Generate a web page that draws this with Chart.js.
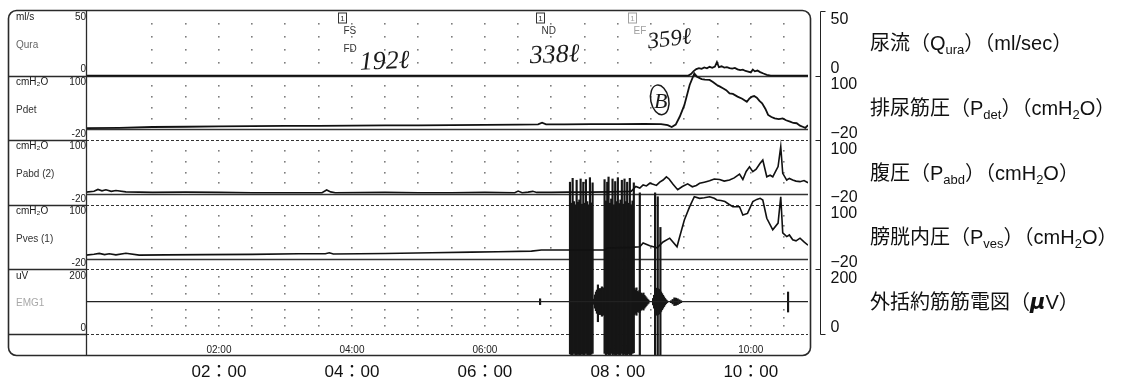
<!DOCTYPE html>
<html>
<head>
<meta charset="utf-8">
<script src="https://cdn.jsdelivr.net/npm/chart.js@4.4.1/dist/chart.umd.min.js"></script>
<style>
  html, body { margin: 0; padding: 0; background: #fff; }
  canvas { display: block; }
</style>
</head>
<body>
<canvas id="chart" width="1144" height="383"></canvas>
<script>
// 時間軸（分）
const xMax = 10.86;
const timeTicks = [2, 4, 6, 8, 10];
const innerTimeLabels = ['02:00', '04:00', '06:00', '08:00', '10:00'];
const outerTimeLabels = ['02：00', '04：00', '06：00', '08：00', '10：00'];

// チャンネル（上から順）
const panelIds = ['yQ', 'yPdet', 'yPabd', 'yPves', 'yEMG'];
const panelUnits = ['ml/s', 'cmH₂O', 'cmH₂O', 'cmH₂O', 'uV'];
const panelNames = ['Qura', 'Pdet', 'Pabd (2)', 'Pves (1)', 'EMG1'];
const panelMin = [0, -20, -20, -20, 0];
const panelMax = [50, 100, 100, 100, 200];
const dotRows = [[10, 20, 30, 40], [20, 40, 60, 80], [20, 40, 60, 80], [20, 40, 60, 80], [25, 50, 75, 125, 150, 175]];
const rightTitles = [
  [['尿流（Q', ''], ['ura', 's'], ['）（ml/sec）', '']],
  [['排尿筋圧（P', ''], ['det', 's'], ['）（cmH', ''], ['2', 's'], ['O）', '']],
  [['腹圧（P', ''], ['abd', 's'], ['）（cmH', ''], ['2', 's'], ['O）', '']],
  [['膀胱内圧（P', ''], ['ves', 's'], ['）（cmH', ''], ['2', 's'], ['O）', '']],
  [['外括約筋筋電図（', ''], ['μ', 'b'], ['V）', '']]
];

// イベントマーカー
const eventTimes = [3.85, 6.83, 8.21];
const eventLabels = [['FS', 'FD'], ['ND'], ['EF']];

// 手書きメモ
const noteTexts = ['192ℓ', '338ℓ', '359ℓ'];
const noteTimes = [4.12, 6.68, 8.46];
const noteLevels = [4.5, 9.5, 21];

// 尿流 Qura (ml/s)
const quraTime = [0, 9.06, 9.10, 9.14, 9.18, 9.22, 9.26, 9.30, 9.34, 9.38, 9.42, 9.46, 9.49, 9.52, 9.56, 9.60, 9.64, 9.68, 9.72, 9.76, 9.80, 9.84, 9.88, 9.92, 9.96, 10.00, 10.03, 10.06, 10.10, 10.14, 10.19, 10.24, 10.30, 10.86];
const quraValue = [0, 0, 1.2, 3.5, 5.0, 5.8, 5.2, 6.3, 5.6, 6.8, 6.0, 7.0, 10.5, 6.5, 7.2, 6.2, 6.6, 5.8, 5.4, 5.9, 4.8, 4.2, 4.6, 3.6, 3.1, 2.5, 4.6, 3.3, 3.9, 2.7, 1.6, 0.6, 0, 0];

// 排尿筋圧 Pdet (cmH2O)
const pdetTime = [0, 0.5, 1.0, 1.5, 2.0, 2.5, 3.0, 3.5, 4.0, 4.5, 5.0, 5.5, 6.0, 6.5, 6.8, 6.86, 6.92, 7.2, 7.6, 8.0, 8.4, 8.65, 8.75, 8.81, 8.87, 8.93, 9.0, 9.08, 9.15, 9.19, 9.26, 9.31, 9.38, 9.43, 9.49, 9.53, 9.58, 9.63, 9.68, 9.73, 9.80, 9.87, 9.94, 9.98, 10.02, 10.05, 10.09, 10.13, 10.17, 10.22, 10.26, 10.31, 10.36, 10.42, 10.48, 10.53, 10.59, 10.64, 10.69, 10.74, 10.78, 10.82, 10.86];
const pdetValue = [2.5, 3, 4.5, 5, 5.5, 6, 6.5, 6.5, 7, 7.5, 7.5, 8, 8.5, 9, 9.5, 12.5, 9.5, 9.5, 10, 10, 10.5, 10, 8, 4.5, 9, 23.5, 45, 82.5, 104, 98, 93.5, 92.5, 92, 88, 82.5, 80, 76.5, 73, 67, 66, 61, 57, 51.5, 57.5, 61, 62, 59, 53, 48.5, 38, 27, 23, 20.5, 19, 20.5, 17, 14.5, 12, 11.5, 7, 5, 3, 8];

// 腹圧 Pabd (cmH2O)
const pabdTime = [0, 0.12, 0.18, 0.24, 0.3, 0.38, 0.45, 0.6, 1.0, 1.5, 2.0, 2.5, 3.0, 3.55, 3.62, 3.68, 3.75, 4.5, 5.0, 5.5, 6.0, 6.45, 6.5, 6.56, 6.65, 6.72, 6.78, 7.0, 7.25, 7.6, 7.9, 8.2, 8.27, 8.33, 8.38, 8.43, 8.48, 8.53, 8.58, 8.63, 8.68, 8.73, 8.77, 8.83, 8.9, 8.97, 9.05, 9.12, 9.18, 9.23, 9.3, 9.38, 9.45, 9.53, 9.6, 9.68, 9.75, 9.83, 9.88, 9.93, 9.98, 10.03, 10.08, 10.14, 10.18, 10.24, 10.29, 10.33, 10.38, 10.41, 10.45, 10.48, 10.54, 10.58, 10.63, 10.68, 10.74, 10.8, 10.86];
const pabdValue = [3.5, 5, 8.5, 6, 8, 5, 6.5, 4, 3, 3.5, 3, 2.5, 2.5, 2.5, 7.5, 4, 2.5, 3, 2.5, 2.5, 3, 2.5, 5.5, 2.5, 3.5, 5, 3, 3, 3.5, 3.5, 4, 5, 14, 11, 17, 15, 20, 18, 16, 22, 26, 32, 28, 18, 8, 14, 19, 13.5, 16, 20, 22, 24.5, 28, 27, 24, 26, 30, 37, 27, 42, 50.5, 41.5, 46, 57, 63, 32, 35, 32, 44, 51, 88, 38.5, 26, 29, 26, 24, 23, 25, 21];

// 膀胱内圧 Pves (cmH2O)
const pvesTime = [0, 0.12, 0.2, 0.28, 0.35, 0.45, 0.6, 0.8, 1.2, 1.8, 2.5, 3.2, 3.6, 3.66, 3.72, 4.5, 5.2, 5.8, 6.2, 6.7, 6.85, 7.2, 7.5, 7.8, 7.84, 8.2, 8.33, 8.38, 8.48, 8.59, 8.68, 8.78, 8.89, 8.93, 9.0, 9.08, 9.15, 9.23, 9.3, 9.38, 9.45, 9.49, 9.55, 9.61, 9.67, 9.73, 9.83, 9.88, 9.95, 10.03, 10.09, 10.14, 10.18, 10.24, 10.33, 10.41, 10.45, 10.48, 10.54, 10.58, 10.63, 10.68, 10.74, 10.8, 10.86];
const pvesValue = [6.5, 8, 9.8, 7.5, 9, 7, 10, 6.5, 7, 7.5, 8, 9, 9, 11, 8.5, 9.5, 11, 12, 12.8, 14, 16, 16, 16, 16, 19.7, 21, 22, 29, 24, 20, 31, 38, 22, 40.7, 71.7, 96.5, 115, 112, 113, 115, 112, 109, 108, 106, 101, 96.5, 96.5, 81, 84, 106, 110, 112, 109, 75, 53.5, 66, 115, 48, 41, 44, 35, 33, 38, 31, 25];

// 筋電図 EMG (uV) 基線
const emgTime = [0, 10.86];
const emgValue = [100, 100];

// 筋電図の放電（各時刻の下端・上端）
const emgBarTime = [
  6.83,
  7.28, 7.30, 7.32, 7.34, 7.36, 7.38, 7.40, 7.42, 7.44, 7.46, 7.48, 7.50, 7.52, 7.54, 7.56, 7.58, 7.60, 7.62,
  7.64, 7.655, 7.67, 7.685, 7.70, 7.715, 7.73, 7.745, 7.76, 7.775, 7.79,
  7.80, 7.82, 7.84, 7.86, 7.88, 7.90, 7.92, 7.94, 7.96, 7.98, 8.00, 8.02, 8.04, 8.06, 8.08, 8.10, 8.12, 8.14, 8.16, 8.18, 8.20, 8.22, 8.24,
  8.25, 8.265, 8.28, 8.295, 8.31, 8.325, 8.33, 8.34, 8.355, 8.37, 8.385, 8.40, 8.415, 8.43, 8.445, 8.46,
  8.53, 8.545, 8.56, 8.562, 8.575, 8.59, 8.60, 8.605, 8.62, 8.635, 8.64, 8.65, 8.665, 8.68, 8.695, 8.71, 8.725, 8.74,
  8.80, 8.825, 8.85, 8.875, 8.90, 8.925, 8.95,
  10.56
];
const emgBarLow = [
  91,
  -62, -64, -64, -60, -64, -64, -63, -64, -64, -62, -64, -64, -60, -64, -64, -64, -63, -60,
  92, 80, 72, 64, 38, 70, 60, 68, 55, 62, 58,
  -60, -64, -62, -64, -64, -60, -64, -63, -64, -64, -62, -64, -64, -60, -64, -63, -64, -64, -62, -64, -64, -60, -58,
  60, 64, 58, 68, 70, 66, -64, 72, 75, 78, 74, 80, 84, 88, 92, 95,
  90, 80, -64, 70, 62, 58, -64, 60, 62, 66, -64, 70, 75, 80, 85, 90, 94, 97,
  97, 93, 88, 89, 91, 94, 97,
  68
];
const emgBarHigh = [
  109,
  470, 405, 482, 410, 400, 476, 408, 415, 480, 402, 470, 405, 478, 410, 400, 484, 406, 468,
  108, 121, 130, 136, 152, 131, 141, 133, 146, 139, 143,
  478, 412, 470, 486, 405, 418, 480, 400, 472, 410, 484, 404, 415, 476, 402, 480, 410, 470, 405, 482, 400, 412, 468,
  141, 136, 143, 132, 130, 135, 437, 128, 126, 122, 127, 120, 116, 112, 108, 105,
  110, 120, 437, 130, 138, 142, 425, 140, 138, 134, 330, 130, 125, 120, 115, 110, 106, 103,
  103, 107, 112, 111, 109, 106, 103,
  130
];

function pts(times, values) {
  return times.map((t, i) => ({ x: t, y: values[i] }));
}

const jpFont = '"Liberation Sans", "Noto Sans CJK JP"';

function strokeLine(ctx, x1, y1, x2, y2, w, dash) {
  ctx.lineWidth = w;
  ctx.setLineDash(dash);
  ctx.beginPath();
  ctx.moveTo(x1, y1);
  ctx.lineTo(x2, y2);
  ctx.stroke();
}

// 枠・目盛り・文字を描くプラグイン
const framePlugin = {
  id: 'frame',
  beforeDatasetsDraw(chart) {
    const { ctx, chartArea: a, scales } = chart;
    const xs = scales.x;
    ctx.save();
    // 30秒ごとの点グリッド
    ctx.fillStyle = '#7d7d7d';
    panelIds.forEach((id, p) => {
      const ys = scales[id];
      dotRows[p].forEach(v => {
        const py = Math.round(ys.getPixelForValue(v));
        for (let k = 2; k * 0.5 <= 10.5; k++) {
          const px = Math.round(xs.getPixelForValue(k * 0.5));
          ctx.fillRect(px - 1, py - 1, 1.6, 1.6);
        }
      });
    });
    // ゼロ線と区切り線
    ctx.strokeStyle = '#333';
    panelIds.forEach((id, p) => {
      const ys = scales[id];
      if (panelMin[p] < 0) {
        const y0 = Math.round(ys.getPixelForValue(0)) + 0.5;
        strokeLine(ctx, a.left, y0, a.right, y0, 1.3, []);
      }
      const yb = Math.round(ys.bottom) + 0.5;
      if (p === 0) {
        strokeLine(ctx, a.left, yb, a.right, yb, 1.3, []);
      } else {
        strokeLine(ctx, a.left, yb, a.right, yb, 1.2, [3, 2]);
      }
    });
    ctx.restore();
  },
  afterDraw(chart) {
    const { ctx, chartArea: a, scales } = chart;
    const xs = scales.x;
    ctx.save();
    ctx.setLineDash([]);

    // 外枠（角丸）
    const L = 8.5, T = a.top - 0.5, R = a.right + 2.5, B = Math.round(xs.bottom) + 0.5, r = 8;
    ctx.strokeStyle = '#2a2a2a';
    ctx.lineWidth = 1.6;
    ctx.beginPath();
    ctx.moveTo(L + r, T);
    ctx.arcTo(R, T, R, B, r);
    ctx.arcTo(R, B, L, B, r);
    ctx.arcTo(L, B, L, T, r);
    ctx.arcTo(L, T, R, T, r);
    ctx.closePath();
    ctx.stroke();

    // 左のラベル欄
    strokeLine(ctx, a.left + 0.5, T, a.left + 0.5, B, 1.3, []);
    ctx.font = '10px "Liberation Sans", "DejaVu Sans"';
    panelIds.forEach((id, p) => {
      const ys = scales[id];
      const yb = Math.round(ys.bottom) + 0.5;
      ctx.strokeStyle = '#2a2a2a';
      strokeLine(ctx, L, yb, a.left, yb, 1.3, []);
      ctx.textBaseline = 'middle';
      ctx.fillStyle = '#1a1a1a';
      ctx.textAlign = 'left';
      ctx.fillText(panelUnits[p], 16, ys.top + 6.5);
      ctx.textAlign = 'right';
      ctx.fillText(String(panelMax[p]), a.left, ys.top + 6.5);
      ctx.fillText(String(panelMin[p]), a.left, ys.bottom - 6);
      ctx.textAlign = 'left';
      ctx.fillStyle = p === 4 ? '#a8a8a8' : (p === 0 ? '#666' : '#333');
      ctx.fillText(panelNames[p], 16, (ys.top + ys.bottom) / 2 + 2);
    });

    // 右側の目盛り
    const bx = a.right + 12.5;
    const top0 = scales[panelIds[0]].top;
    const botN = scales[panelIds[panelIds.length - 1]].bottom;
    ctx.strokeStyle = '#222';
    strokeLine(ctx, bx, Math.round(top0) + 0.5, bx, Math.round(botN) + 0.5, 1, []);
    strokeLine(ctx, bx, Math.round(top0) + 0.5, bx + 5, Math.round(top0) + 0.5, 1, []);
    strokeLine(ctx, bx, Math.round(botN) + 0.5, bx + 5, Math.round(botN) + 0.5, 1, []);
    panelIds.forEach((id, p) => {
      const ys = scales[id];
      if (p > 0) {
        const yt = Math.round(ys.top) + 0.5;
        strokeLine(ctx, bx - 5, yt, bx, yt, 1, []);
      }
      ctx.fillStyle = '#111';
      ctx.font = '16px "Liberation Sans"';
      ctx.textAlign = 'left';
      ctx.textBaseline = 'top';
      ctx.fillText(String(panelMax[p]).replace('-', '−'), bx + 10, ys.top + 1);
      ctx.textBaseline = 'alphabetic';
      ctx.fillText(String(panelMin[p]).replace('-', '−'), bx + 10, ys.bottom - 2.5);

      // チャンネル名
      let x = 870;
      const yc = (ys.top + ys.bottom) / 2 + 7;
      rightTitles[p].forEach(([txt, kind]) => {
        if (kind === 's') {
          ctx.font = '13px ' + jpFont;
          ctx.fillText(txt, x, yc + 4);
        } else if (kind === 'b') {
          ctx.font = 'italic bold 21px "DejaVu Sans"';
          ctx.fillText(txt, x, yc);
        } else {
          ctx.font = '20px ' + jpFont;
          ctx.fillText(txt, x, yc);
        }
        x += ctx.measureText(txt).width;
      });
    });

    // イベントマーカー
    eventTimes.forEach((t, i) => {
      const px = Math.round(xs.getPixelForValue(t)) + 0.5;
      const col = i === 2 ? '#a0a0a0' : '#333';
      ctx.strokeStyle = col;
      ctx.fillStyle = col;
      ctx.lineWidth = 1;
      ctx.strokeRect(px - 4, a.top + 2, 8, 10);
      ctx.font = '8px "Liberation Sans"';
      ctx.textAlign = 'center';
      ctx.textBaseline = 'middle';
      ctx.fillText('1', px, a.top + 7.5);
      ctx.font = '10px "Liberation Sans"';
      ctx.textAlign = 'left';
      eventLabels[i].forEach((lab, j) => {
        ctx.fillText(lab, px + 1, a.top + 20 + j * 18);
      });
    });

    // 手書きメモ
    const yq = scales.yQ;
    ctx.fillStyle = '#1a1a1a';
    ctx.textAlign = 'left';
    ctx.textBaseline = 'alphabetic';
    noteTexts.forEach((txt, i) => {
      const px = xs.getPixelForValue(noteTimes[i]);
      const py = yq.getPixelForValue(noteLevels[i]);
      ctx.save();
      ctx.translate(px, py);
      ctx.rotate(i === 2 ? -0.12 : -0.04);
      ctx.font = 'italic ' + (i === 2 ? 23 : 26) + 'px "Liberation Serif", "DejaVu Serif"';
      ctx.fillText(txt, 0, 0);
      ctx.restore();
    });
    // 丸囲みの B
    const bxp = xs.getPixelForValue(8.63);
    const byp = scales.yPdet.getPixelForValue(55);
    ctx.font = 'italic 22px "Liberation Serif", "DejaVu Serif"';
    ctx.textAlign = 'center';
    ctx.textBaseline = 'middle';
    ctx.fillText('B', bxp + 1, byp + 2);
    ctx.strokeStyle = '#1a1a1a';
    ctx.lineWidth = 1.5;
    ctx.beginPath();
    ctx.ellipse(bxp, byp, 9, 15, -0.2, 0, Math.PI * 2);
    ctx.stroke();

    ctx.restore();
  }
};

// 縦に積んだ y 軸
const scales = {
  x: {
    type: 'linear', position: 'bottom', weight: 0, min: 0, max: xMax, offset: false,
    grid: { display: false, drawTicks: false }, border: { display: false },
    afterBuildTicks: s => { s.ticks = timeTicks.map(v => ({ value: v })); },
    afterFit: s => { s.height = 21; },
    ticks: {
      autoSkip: false, maxRotation: 0, padding: 10, color: '#222',
      font: { family: '"Liberation Sans"', size: 10 },
      callback: (v, i) => innerTimeLabels[i]
    }
  },
  x2: {
    type: 'linear', position: 'bottom', weight: 1, min: 0, max: xMax, offset: false,
    grid: { display: false, drawTicks: false }, border: { display: false },
    afterBuildTicks: s => { s.ticks = timeTicks.map(v => ({ value: v })); },
    afterFit: s => { s.height = 28; },
    ticks: {
      autoSkip: false, maxRotation: 0, padding: 7, color: '#111',
      font: { family: jpFont, size: 17 },
      callback: (v, i) => outerTimeLabels[i]
    }
  }
};
panelIds.forEach((id, i) => {
  scales[id] = {
    type: 'linear', position: 'left', stack: 'panels', stackWeight: 1,
    weight: panelIds.length - i, min: panelMin[i], max: panelMax[i],
    display: false, clip: false
  };
});

const lineStyle = { borderColor: '#111', pointRadius: 0, tension: 0, fill: false, xAxisID: 'x' };

let ctx = document.getElementById('chart');
let chart = new Chart(ctx, {
  type: 'line',
  data: {
    datasets: [
      { ...lineStyle, label: 'Qura', yAxisID: 'yQ', borderWidth: 1.8, data: pts(quraTime, quraValue) },
      { ...lineStyle, label: 'Pdet', yAxisID: 'yPdet', borderWidth: 1.8, data: pts(pdetTime, pdetValue) },
      { ...lineStyle, label: 'Pabd', yAxisID: 'yPabd', borderWidth: 1.6, data: pts(pabdTime, pabdValue) },
      { ...lineStyle, label: 'Pves', yAxisID: 'yPves', borderWidth: 1.6, data: pts(pvesTime, pvesValue) },
      { ...lineStyle, label: 'EMG', yAxisID: 'yEMG', borderWidth: 1.2, borderColor: '#222', data: pts(emgTime, emgValue) },
      {
        type: 'bar', label: 'EMG burst', xAxisID: 'x', yAxisID: 'yEMG',
        data: emgBarTime.map((t, i) => ({ x: t, y: [emgBarLow[i], emgBarHigh[i]] })),
        backgroundColor: '#161616', borderWidth: 0, barThickness: 1.5, grouped: false,
        clip: { left: 0, right: 0, top: false, bottom: false }
      }
    ]
  },
  options: {
    responsive: false,
    animation: false,
    devicePixelRatio: 1,
    layout: { padding: { left: 86, right: 336, top: 11, bottom: 0 } },
    plugins: { legend: { display: false }, tooltip: { enabled: false } },
    scales: scales
  },
  plugins: [framePlugin]
});
</script>
</body>
</html>
